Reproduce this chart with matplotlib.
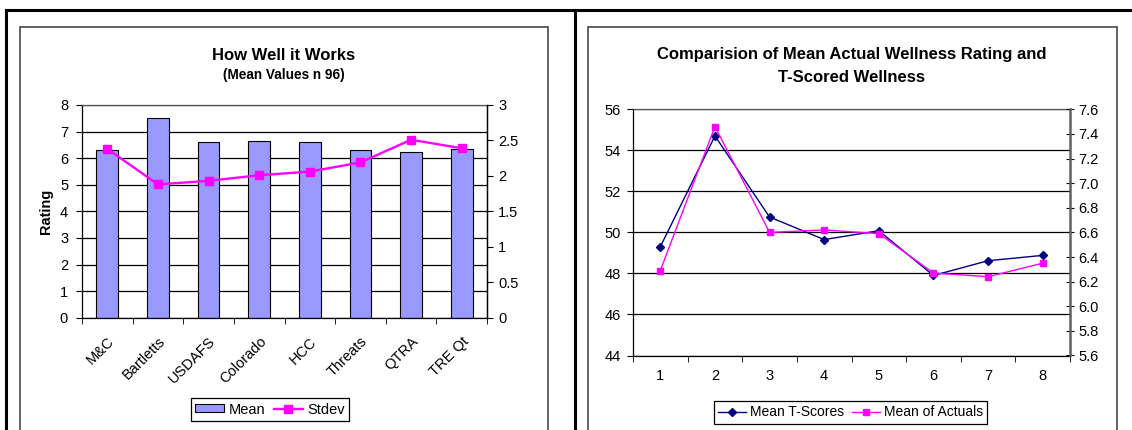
import matplotlib
matplotlib.use("Agg")
import matplotlib.pyplot as plt
from matplotlib.lines import Line2D
from matplotlib.patches import Rectangle, Patch
from matplotlib.ticker import FixedLocator, FormatStrFormatter
import numpy as np

plt.rcParams['font.family'] = ['Liberation Sans', 'DejaVu Sans']

# ---------------- data ----------------
categories = ["M&C", "Bartletts", "USDAFS", "Colorado", "HCC", "Threats", "QTRA", "TRE Qt"]
mean_vals = [6.29, 7.5, 6.6, 6.65, 6.61, 6.29, 6.25, 6.36]
stdev_vals = [2.38, 1.88, 1.93, 2.01, 2.06, 2.19, 2.51, 2.39]

groups = ["1", "2", "3", "4", "5", "6", "7", "8"]
t_scores = [49.3, 54.7, 50.75, 49.65, 50.08, 47.9, 48.62, 48.88]
actuals = [6.29, 7.46, 6.6, 6.62, 6.59, 6.27, 6.24, 6.35]

W, H = 1132, 430
fig = plt.figure(figsize=(W / 100, H / 100), dpi=100)


def fx(x):
    return x / W


def fy(y):
    return 1 - y / H


def axes_px(x0, y0, x1, y1):
    return fig.add_axes([fx(x0), fy(y1), fx(x1) - fx(x0), (y1 - y0) / H])


# ---------------- frames ----------------
for (xs, ys) in [((6, W), (10, 10)), ((6, 6), (10, H)), ((575, 575), (10, H))]:
    fig.add_artist(Line2D([fx(v) for v in xs], [fy(v) for v in ys], color="black", lw=2.2,
                          transform=fig.transFigure))
for (x0, x1) in [(20, 548), (588, 1117)]:
    fig.add_artist(Rectangle((fx(x0), fy(440)), fx(x1) - fx(x0), (440 - 27) / H, fill=False,
                             edgecolor="#555555", lw=1.3, transform=fig.transFigure))

FS = 10.5

# ---------------- left chart ----------------
ax1 = axes_px(82, 105, 487, 317.7)
x = np.arange(len(categories))
ax1.bar(x, mean_vals, width=0.43, color="#9999FF", edgecolor="black", lw=0.8, zorder=2,
        label="Mean")
ax1.set_xlim(-0.5, len(categories) - 0.5)
ax1.set_ylim(0, 8)
ax1.set_yticks(range(0, 9))
ax1.set_axisbelow(True)
ax1.yaxis.grid(True, color="black", lw=0.9)
ax1.xaxis.set_major_locator(FixedLocator(x))
ax1.set_xticklabels(categories, rotation=45, ha="right", rotation_mode="anchor", fontsize=FS)
ax1.tick_params(axis="x", which="major", length=0, pad=12)
ax1.xaxis.set_minor_locator(FixedLocator(np.arange(-0.5, len(categories), 1.0)))
ax1.tick_params(axis="x", which="minor", length=4, direction="out")
ax1.tick_params(axis="y", length=4, direction="out", labelsize=FS, pad=6)
ax1.set_ylabel("Rating", fontsize=FS, fontweight="bold", labelpad=5)
for s in ["left", "bottom", "top", "right"]:
    ax1.spines[s].set_color("black")
    ax1.spines[s].set_linewidth(0.9)
ax1.spines["top"].set_color("#555555")

ax2 = ax1.twinx()
ax2.plot(x, stdev_vals, color="#FF00FF", lw=1.7, marker="s", markersize=5.5, label="Stdev")
ax2.set_ylim(0, 3)
ax2.set_yticks([0, 0.5, 1, 1.5, 2, 2.5, 3])
ax2.set_yticklabels(["0", "0.5", "1", "1.5", "2", "2.5", "3"])
ax2.tick_params(axis="y", length=4, direction="out", labelsize=FS, pad=4)
for s in ax2.spines.values():
    s.set_visible(False)
ax2.spines["right"].set_visible(True)
ax2.spines["right"].set_linewidth(0.9)

fig.text(fx(284), fy(55), "How Well it Works", ha="center", va="center", fontsize=12,
         fontweight="bold")
fig.text(fx(284), fy(74.5), "(Mean Values n 96)", ha="center", va="center", fontsize=9.8,
         fontweight="bold")

h1 = [Patch(facecolor="#9999FF", edgecolor="black", lw=0.8)]
h2 = [Line2D([], [], color="#FF00FF", lw=1.7, marker="s", markersize=5.5)]
fig.legend(h1 + h2, ["Mean", "Stdev"], loc="center", bbox_to_anchor=(fx(270), fy(409.5)),
           ncol=2, fontsize=FS, frameon=True, fancybox=False, edgecolor="black",
           framealpha=1, borderpad=0.3, handlelength=2.0, handleheight=0.5,
           handletextpad=0.3, columnspacing=0.6,
           borderaxespad=0).get_frame().set_linewidth(0.9)

# ---------------- right chart ----------------
ax3 = axes_px(633, 109.3, 1070, 355.5)
g = np.arange(len(groups))
ax3.plot(g, t_scores, color="#000080", lw=1.0, marker="D", markersize=4, label="Mean T-Scores")
ax3.set_xlim(-0.5, len(groups) - 0.5)
ax3.set_ylim(44, 56)
ax3.set_yticks(range(44, 57, 2))
ax3.yaxis.grid(True, color="black", lw=0.9)
ax3.xaxis.set_major_locator(FixedLocator(g))
ax3.set_xticklabels(groups, fontsize=FS)
ax3.tick_params(axis="x", which="major", length=0, pad=10)
ax3.xaxis.set_minor_locator(FixedLocator(np.arange(-0.5, len(groups), 1.0)))
ax3.tick_params(axis="x", which="minor", length=4, direction="out")
ax3.tick_params(axis="y", length=4, direction="out", labelsize=FS, pad=5)
for s in ["left", "bottom"]:
    ax3.spines[s].set_color("black")
    ax3.spines[s].set_linewidth(0.9)
ax3.spines["top"].set_color("#555555")
ax3.spines["top"].set_linewidth(0.9)
ax3.spines["right"].set_visible(False)

ax4 = ax3.twinx()
ax4.plot(g, actuals, color="#FF00FF", lw=1.0, marker="s", markersize=4.2, label="Mean of Actuals")
ax4.set_ylim(5.6, 7.6)
ax4.set_yticks(np.round(np.arange(5.6, 7.61, 0.2), 1))
ax4.yaxis.set_major_formatter(FormatStrFormatter("%.1f"))
ax4.tick_params(axis="y", length=6, direction="inout", labelsize=FS, pad=3)
for s in ax4.spines.values():
    s.set_visible(False)
ax4.spines["right"].set_visible(True)
ax4.spines["right"].set_color("#606060")
ax4.spines["right"].set_linewidth(1.8)

fig.text(fx(852), fy(55), "Comparision of Mean Actual Wellness Rating and", ha="center",
         va="center", fontsize=12, fontweight="bold")
fig.text(fx(852), fy(77), "T-Scored Wellness", ha="center", va="center", fontsize=12,
         fontweight="bold")

h3 = [Line2D([], [], color="#000080", lw=1.0, marker="D", markersize=4),
      Line2D([], [], color="#FF00FF", lw=1.0, marker="s", markersize=4.2)]
fig.legend(h3, ["Mean T-Scores", "Mean of Actuals"], loc="center",
           bbox_to_anchor=(fx(850.5), fy(412.5)), ncol=2, fontsize=10, frameon=True,
           fancybox=False, edgecolor="black", framealpha=1, borderpad=0.3,
           handlelength=2.0, handletextpad=0.3, columnspacing=0.6,
           borderaxespad=0).get_frame().set_linewidth(0.9)

fig.savefig("out.png", dpi=100)
